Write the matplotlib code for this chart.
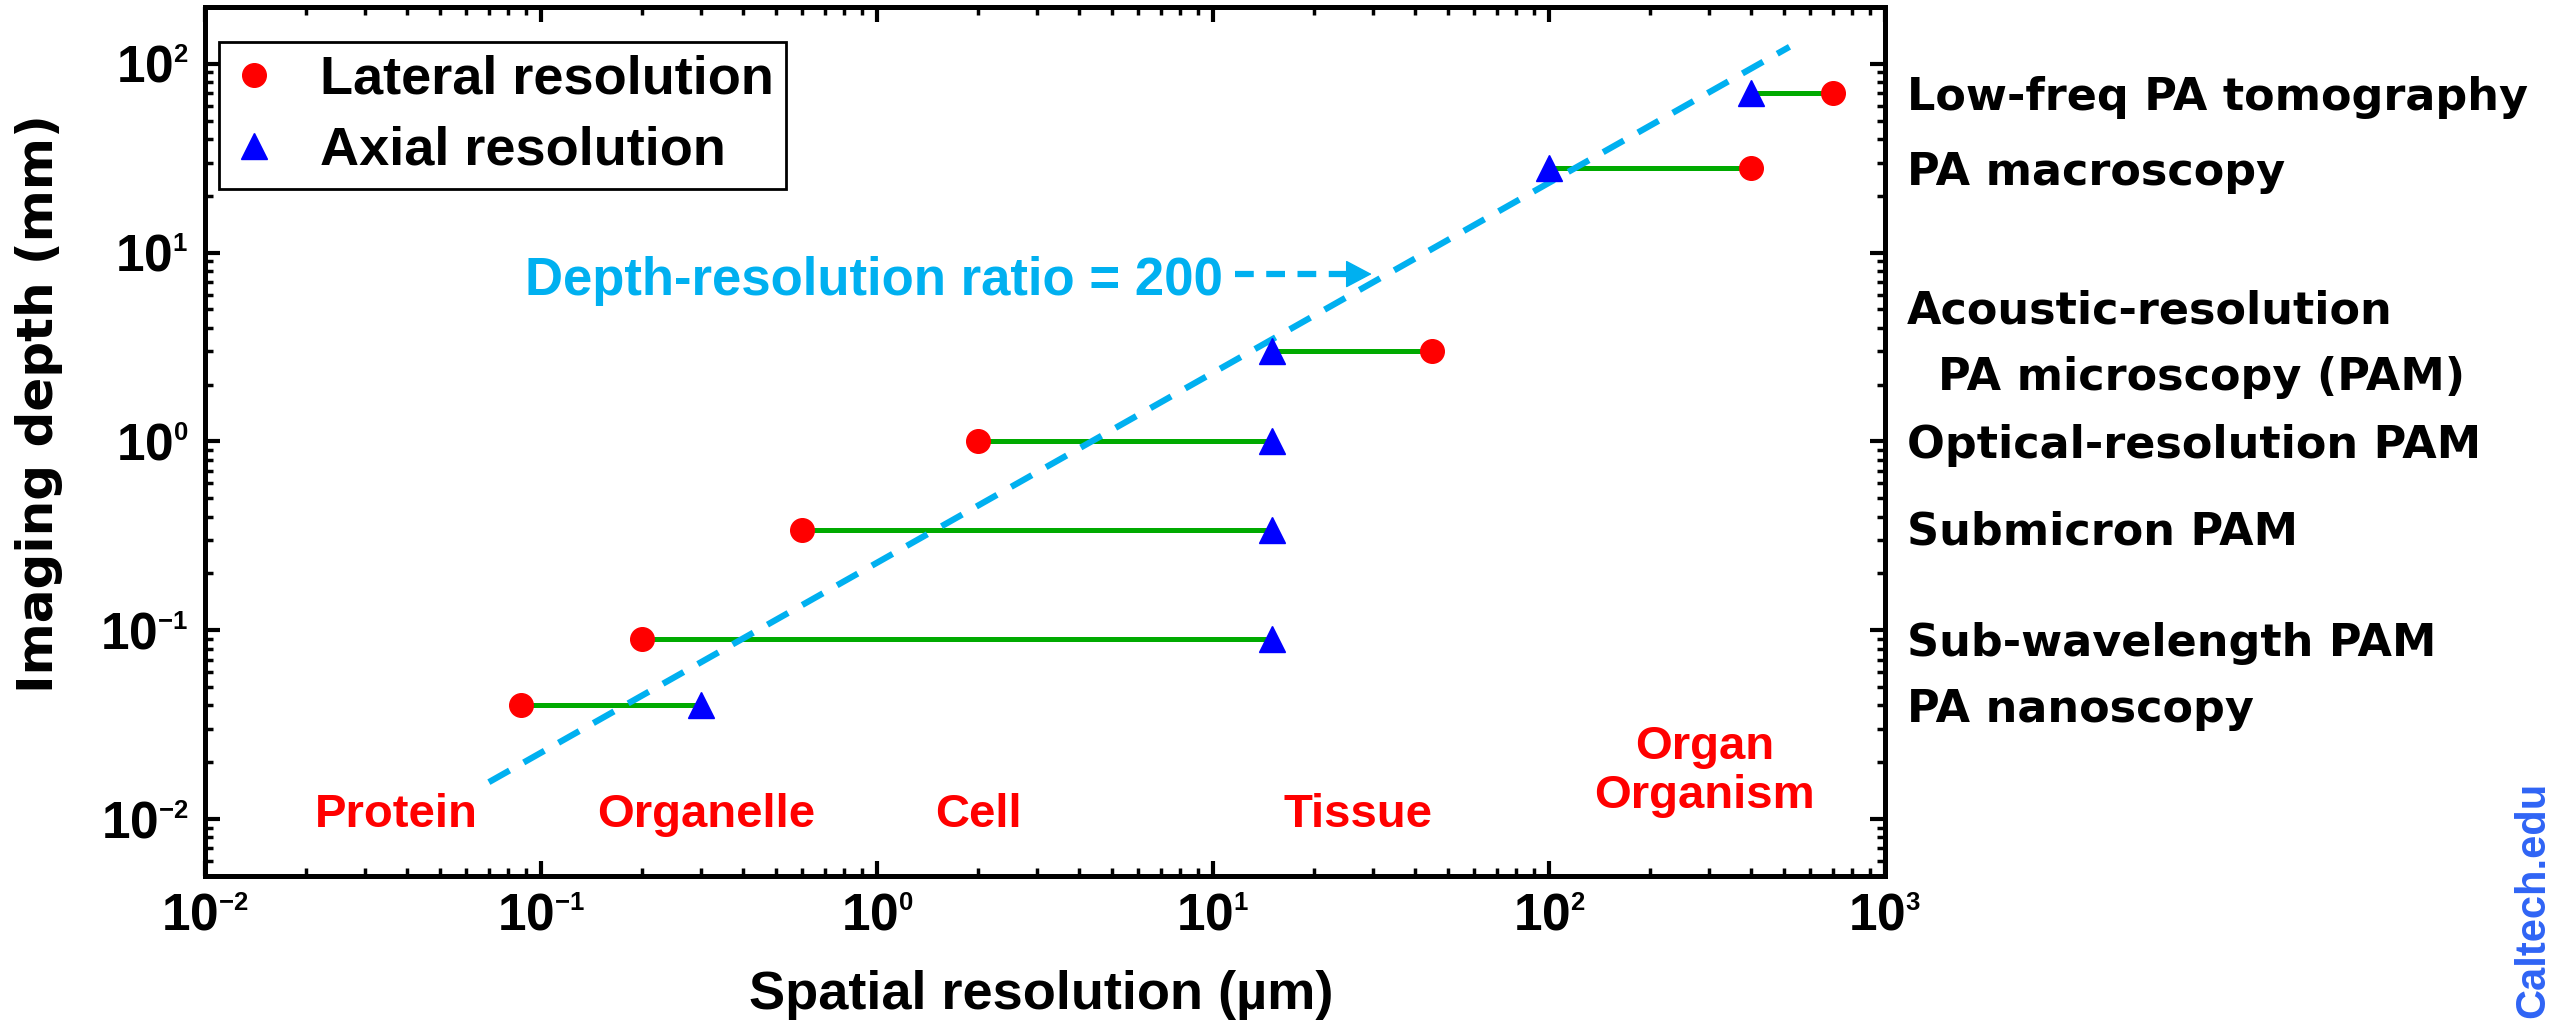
import math
import matplotlib
import matplotlib.pyplot as plt
import matplotlib._mathtext
from matplotlib.ticker import FixedLocator, FuncFormatter, LogLocator, NullFormatter
from matplotlib.transforms import blended_transform_factory

# smaller superscripts in the tick labels (like the original figure)
matplotlib._mathtext.SHRINK_FACTOR = 0.5

plt.rcParams['font.family'] = 'Liberation Sans'
plt.rcParams['font.weight'] = 'bold'
plt.rcParams['axes.labelweight'] = 'bold'
plt.rcParams['mathtext.fontset'] = 'custom'
plt.rcParams['mathtext.rm'] = 'Liberation Sans:bold'
plt.rcParams['mathtext.it'] = 'Liberation Sans:bold'
plt.rcParams['mathtext.bf'] = 'Liberation Sans:bold'

# data (resolution in um, depth in mm)
techniques = ['PA nanoscopy', 'Sub-wavelength PAM', 'Submicron PAM',
              'Optical-resolution PAM', 'Acoustic-resolution PAM',
              'PA macroscopy', 'Low-freq PA tomography']
lateral_res = [0.087, 0.2, 0.6, 2.0, 45, 400, 700]
axial_res = [0.3, 15, 15, 15, 15, 100, 400]
depth = [0.04, 0.09, 0.34, 1.0, 3.0, 28, 70]

# depth-resolution ratio guide line
ratio_x = [0.07, 520]
ratio_y = [0.0157, 123]

# right hand labels and their depth positions
right_labels = ['Low-freq PA tomography', 'PA macroscopy', 'Acoustic-resolution',
                '  PA microscopy (PAM)', 'Optical-resolution PAM', 'Submicron PAM',
                'Sub-wavelength PAM', 'PA nanoscopy']
right_label_depth = [70, 28, 5.2, 2.3, 1.0, 0.35, 0.09, 0.04]

# scale labels along the bottom
scale_names = ['Protein', 'Organelle', 'Cell', 'Tissue', 'Organ\nOrganism']
scale_x = [0.037, 0.31, 2.0, 27, 290]
scale_y = [0.0105, 0.0105, 0.0105, 0.0105, 0.0178]

red = '#FF0000'
blue = '#0000FF'
green = '#00AA00'
cyan = '#00B0F0'

fig = plt.figure(figsize=(25.52, 10.23), dpi=100)
ax = fig.add_axes([0.0803, 0.1437, 0.6583, 0.8495])
ax.set_xscale('log')
ax.set_yscale('log')
ax.set_xlim(1e-2, 1e3)
ax.set_ylim(0.005, 200)

ax.hlines(depth, lateral_res, axial_res, color=green, lw=3.6, zorder=2)
ax.plot(ratio_x, ratio_y, color=cyan, lw=4.5, dashes=(3.8, 2.6), zorder=3)
ax.plot(lateral_res, depth, 'o', color=red, ms=17, zorder=4, label='Lateral resolution')
ax.plot(axial_res, depth, '^', color=blue, ms=19, zorder=4, label='Axial resolution')

# annotation with dashed arrow
ax.text(10.7, 7.6, 'Depth-resolution ratio = 200', color=cyan, fontsize=38,
        ha='right', va='center_baseline')
ax.plot([11.6, 27.0], [7.7, 7.7], color=cyan, lw=4.5, dashes=(3, 2))
ax.annotate('', xy=(29.7, 7.7), xytext=(25.0, 7.7),
            arrowprops=dict(arrowstyle='-|>,head_length=0.85,head_width=0.45',
                            color=cyan, lw=1, mutation_scale=20,
                            shrinkA=0, shrinkB=0))

for name, x, y in zip(scale_names, scale_x, scale_y):
    ax.text(x, y, name, color=red, fontsize=34, ha='center', va='center',
            linespacing=1.15)

trans = blended_transform_factory(fig.transFigure, ax.transData)
for name, y in zip(right_labels, right_label_depth):
    ax.text(0.7473, y, name, transform=trans, fontsize=32, fontweight='bold',
            family='DejaVu Sans', ha='left', va='center_baseline', clip_on=False)

# axes styling
for sp in ax.spines.values():
    sp.set_linewidth(3.6)
ax.xaxis.set_major_locator(FixedLocator([1e-2, 1e-1, 1e0, 1e1, 1e2, 1e3]))
ax.yaxis.set_major_locator(FixedLocator([1e-2, 1e-1, 1e0, 1e1, 1e2]))
ax.xaxis.set_minor_locator(LogLocator(base=10, subs=range(2, 10), numticks=20))
ax.yaxis.set_minor_locator(LogLocator(base=10, subs=range(2, 10), numticks=20))
fmt = FuncFormatter(lambda v, pos: r'$10^{%d}$' % round(math.log10(v)))
ax.xaxis.set_major_formatter(fmt)
ax.yaxis.set_major_formatter(fmt)
ax.xaxis.set_minor_formatter(NullFormatter())
ax.yaxis.set_minor_formatter(NullFormatter())
ax.tick_params(which='both', direction='in', top=True, right=True)
ax.tick_params(which='major', length=11, width=3, labelsize=37, pad=12)
ax.tick_params(which='minor', length=6, width=2.5)

ax.set_xlabel('Spatial resolution (µm)', fontsize=39, fontweight='bold')
ax.xaxis.set_label_coords(0.498, -0.108)
ax.set_ylabel('Imaging depth (mm)', fontsize=36, family='DejaVu Sans', fontweight='bold')
ax.yaxis.set_label_coords(-0.0845, 0.543)

leg = ax.legend(loc='upper left', bbox_to_anchor=(0.0083, 0.960), borderaxespad=0,
                fontsize=39, numpoints=1, handlelength=0.81, handletextpad=0.81,
                borderpad=0.24, labelspacing=0.39, fancybox=False, framealpha=1,
                edgecolor='black')
leg.get_frame().set_linewidth(2)

fig.text(0.9925, 0.005, 'Caltech.edu', rotation=90, color='#2F64F5', fontsize=30,
         ha='center', va='bottom')

fig.savefig('out.png', dpi=100)
